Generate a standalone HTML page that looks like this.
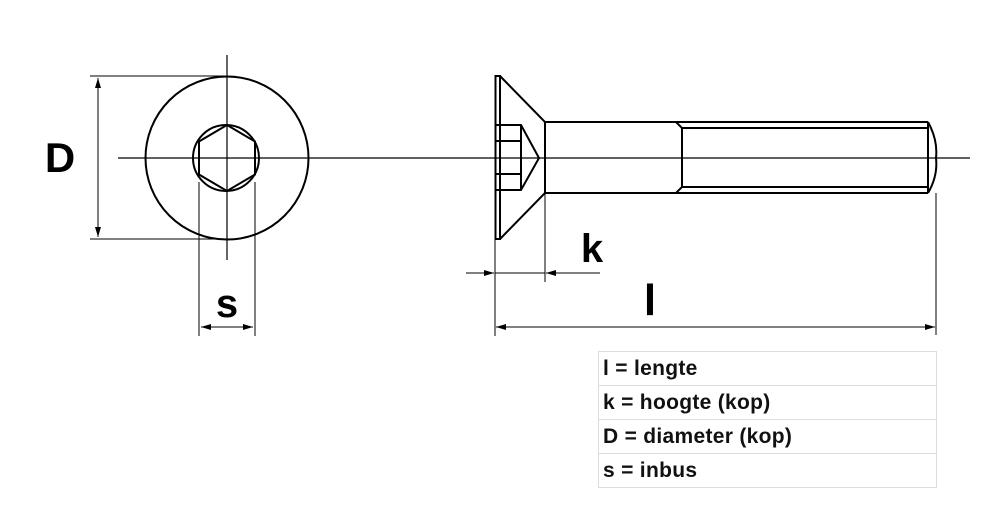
<!DOCTYPE html>
<html><head><style>
body{margin:0;background:#fff;width:1000px;height:520px;overflow:hidden;position:relative;font-family:"Liberation Sans",Arial,sans-serif}
table{position:absolute;left:598px;top:351px;border-collapse:collapse;width:339px}
td{border:1px solid #ddd;height:33px;padding:0 0 0 4px;font-weight:bold;font-size:21px;color:#111;line-height:33px;letter-spacing:0.3px}
</style></head><body>
<svg width="1000" height="520" style="position:absolute;left:0;top:0">
<defs><marker id="a" viewBox="0 0 10 6" refX="10" refY="3" markerWidth="16" markerHeight="6" markerUnits="userSpaceOnUse" orient="auto"><path d="M0,0L10,3L0,6z" fill="#000"/></marker></defs>
<g stroke="#000" fill="none">
<line x1="118" y1="158" x2="970" y2="158" stroke-width="1.2"/>
<line x1="227" y1="55" x2="227" y2="260" stroke-width="1.2"/>
<circle cx="227" cy="158" r="81.5" stroke-width="2"/>
<circle cx="226" cy="158" r="33" stroke-width="2"/>
<polygon points="227,125 255,141.5 255,174.5 227,191 199,174.5 199,141.5" stroke-width="2"/>
<line x1="90" y1="76" x2="225" y2="76" stroke-width="1"/>
<line x1="90" y1="239" x2="225" y2="239" stroke-width="1"/>
<line x1="98" y1="158" x2="98" y2="78" stroke-width="1" marker-end="url(#a)"/>
<line x1="98" y1="158" x2="98" y2="237" stroke-width="1" marker-end="url(#a)"/>
<line x1="199" y1="182" x2="199" y2="336" stroke-width="1"/>
<line x1="255" y1="182" x2="255" y2="336" stroke-width="1"/>
<line x1="227" y1="327" x2="201" y2="327" stroke-width="1" marker-end="url(#a)"/>
<line x1="227" y1="327" x2="253" y2="327" stroke-width="1" marker-end="url(#a)"/>
<g stroke-width="2">
<rect x="495.5" y="76" width="4.5" height="163"/>
<polyline points="500,76 545,122 545,193 500,239"/>
<line x1="545" y1="122" x2="680" y2="122"/>
<line x1="545" y1="193" x2="680" y2="193"/>
<polyline points="496,125 521,125 539,158 521,190 496,190"/>
<line x1="521" y1="125" x2="521" y2="190"/>
<line x1="496" y1="141" x2="521" y2="141"/>
<line x1="496" y1="174" x2="521" y2="174"/>
<polyline points="676,122 682,128 682,187 676,193"/>
<line x1="676" y1="122" x2="928" y2="122"/>
<line x1="676" y1="193" x2="928" y2="193"/>
<line x1="682" y1="128" x2="928" y2="128"/>
<line x1="682" y1="187" x2="928" y2="187"/>
<line x1="928" y1="122" x2="928" y2="193"/>
<path d="M928,122 Q938,140 936,158 Q938,176 928,193"/>
</g>
<line x1="495" y1="239" x2="495" y2="336" stroke-width="1"/>
<line x1="545" y1="193" x2="545" y2="282" stroke-width="1"/>
<line x1="466" y1="273" x2="494" y2="273" stroke-width="1" marker-end="url(#a)"/>
<line x1="600" y1="273" x2="546" y2="273" stroke-width="1" marker-end="url(#a)"/>
<line x1="495" y1="273" x2="545" y2="273" stroke-width="1"/>
<line x1="936" y1="193" x2="936" y2="335" stroke-width="1"/>
<line x1="715" y1="327" x2="496" y2="327" stroke-width="1" marker-end="url(#a)"/>
<line x1="715" y1="327" x2="935" y2="327" stroke-width="1" marker-end="url(#a)"/>
</g>
<g font-family="Liberation Sans,Arial,sans-serif" font-weight="bold" fill="#000">
<text x="60" y="172" font-size="42" text-anchor="middle">D</text>
<text x="227" y="317" font-size="40" text-anchor="middle">s</text>
<text x="592" y="262" font-size="40" text-anchor="middle">k</text>
<text x="650" y="315" font-size="44" text-anchor="middle">l</text>
</g>
</svg>
<table>
<tr><td>l = lengte</td></tr>
<tr><td>k = hoogte (kop)</td></tr>
<tr><td>D = diameter (kop)</td></tr>
<tr><td>s = inbus</td></tr>
</table>
</body></html>
